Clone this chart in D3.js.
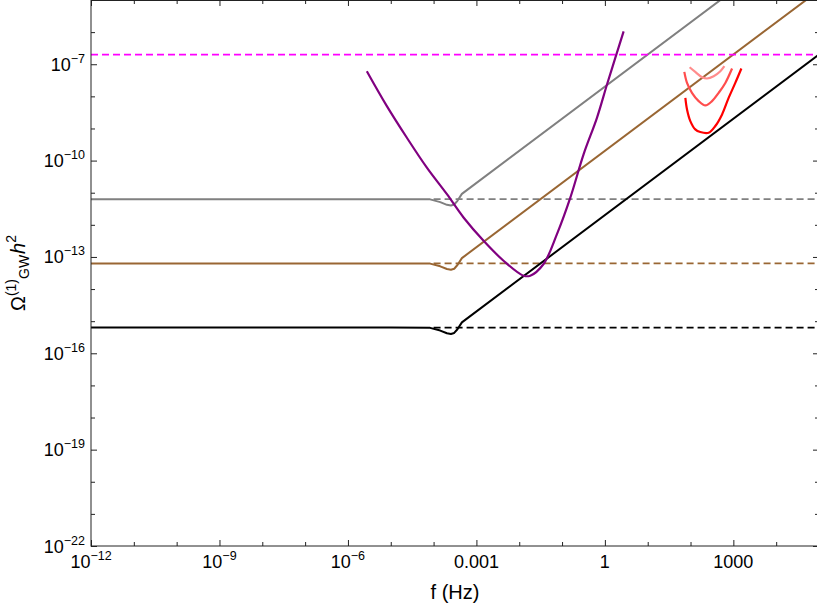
<!DOCTYPE html>
<html>
<head>
<meta charset="utf-8">
<script src="https://cdn.jsdelivr.net/npm/d3@7"></script>
<style>
  html, body { margin: 0; padding: 0; background: #fff; }
  svg { display: block; font-family: "Liberation Sans", Arial, sans-serif; }
</style>
</head>
<body>
<svg id="chart" width="817" height="610"></svg>
<script>
// Frequency grid shared by the three primordial spectra (Hz)
const specFreq = [1e-12, 1e-5, 8.3e-5, 1.43e-4, 2.05e-4, 2.54e-4, 3.03e-4, 3.61e-4, 4.58e-4, 1e5];
// Omega_GW h^2 for the three spectra
const specBlack = [6.3e-16, 6.3e-16, 6.2e-16, 5.1e-16, 4.2e-16, 4.0e-16, 4.3e-16, 5.6e-16, 9.2e-16, 2.0e-7];
const specBrown = [6.3e-14, 6.3e-14, 6.2e-14, 5.1e-14, 4.2e-14, 4.0e-14, 4.3e-14, 5.6e-14, 9.2e-14, 2.0e-5];
const specGray  = [6.3e-12, 6.3e-12, 6.2e-12, 5.1e-12, 4.2e-12, 4.0e-12, 4.3e-12, 5.6e-12, 9.2e-12, 2.0e-3];
// Plateau reference levels (dashed) and the upper bound (magenta)
const plateauLevels = [6.3e-16, 6.3e-14, 6.3e-12];
const plateauStart = 1e-4;
const upperBound = 2.0e-7;

// Space-based detector sensitivity curve
const lisaFreq  = [2.76e-6, 8.11e-6, 2.38e-5, 6.97e-5, 2.05e-4, 5.00e-4, 1.47e-3, 4.30e-3, 1.26e-2, 1.81e-2, 3.70e-2, 7.60e-2, 0.156, 0.318, 0.653, 1.12, 1.75, 2.74];
const lisaOmega = [6.07e-8, 4.97e-9, 5.14e-10, 6.03e-11, 8.97e-12, 1.69e-12, 3.18e-13, 7.62e-14, 2.61e-14, 2.61e-14, 6.03e-14, 5.14e-13, 7.05e-12, 1.57e-10, 2.15e-9, 2.34e-8, 1.57e-7, 1.06e-6];

// Ground-based detector sensitivity curves
const groundAFreq  = [75.7, 82.8, 98.9, 129, 169, 265, 379, 545, 776, 1110, 1540];
const groundAOmega = [8.97e-9, 3.92e-9, 1.70e-9, 9.37e-10, 7.73e-10, 7.36e-10, 1.19e-9, 2.74e-9, 8.97e-9, 2.62e-8, 7.35e-8];
const groundBFreq  = [71.6, 82.8, 108, 155, 222, 318, 454, 650, 933];
const groundBOmega = [5.77e-8, 2.62e-8, 1.29e-8, 7.10e-9, 5.21e-9, 7.10e-9, 1.29e-8, 2.62e-8, 7.35e-8];
const groundCFreq  = [95.3, 129, 186, 243, 347, 497, 617];
const groundCOmega = [8.07e-8, 5.77e-8, 3.94e-8, 3.60e-8, 4.24e-8, 6.07e-8, 8.67e-8];

// Axis ticks
const xMajor = [1e-12, 1e-9, 1e-6, 1e-3, 1, 1e3];
const xMajorLabels = [["10", "−12"], ["10", "−9"], ["10", "−6"], ["0.001", null], ["1", null], ["1000", null]];
const xMinor = [1e-11, 1e-10, 1e-8, 1e-7, 1e-5, 1e-4, 1e-2, 1e-1, 10, 100, 1e4];
const yMajor = [1e-22, 1e-19, 1e-16, 1e-13, 1e-10, 1e-7];
const yMajorLabels = [["10", "−22"], ["10", "−19"], ["10", "−16"], ["10", "−13"], ["10", "−10"], ["10", "−7"]];
const yMinor = [1e-21, 1e-20, 1e-18, 1e-17, 1e-15, 1e-14, 1e-12, 1e-11, 1e-9, 1e-8, 1e-6];

const svg = d3.select("#chart");
const plotL = 91, plotR = 819, plotT = 0, plotB = 546;

const x = d3.scaleLog().domain([1e-12, 1e5]).range([plotL, plotR]);
const y = d3.scaleLog().domain([1e-22, 1e-5]).range([plotB, plotT]);

svg.append("defs").append("clipPath").attr("id", "plotClip")
  .append("rect").attr("x", plotL).attr("y", plotT)
  .attr("width", plotR - plotL).attr("height", plotB - plotT);

const plot = svg.append("g").attr("clip-path", "url(#plotClip)");

const line = d3.line().x(d => x(d[0])).y(d => y(d[1]));
const zipPts = (fs, vs) => fs.map((f, i) => [f, vs[i]]);

// Dashed plateau levels
const plateauColors = ["#000000", "#996633", "#808080"];
plateauLevels.forEach((lv, i) => {
  plot.append("path")
    .attr("d", line([[plateauStart, lv], [1e5, lv]]))
    .attr("fill", "none").attr("stroke", plateauColors[i])
    .attr("stroke-width", 1.6).attr("stroke-dasharray", "7,4");
});

// Spectra
[[specGray, "#808080"], [specBrown, "#996633"], [specBlack, "#000000"]].forEach(([vals, col]) => {
  plot.append("path")
    .attr("d", line(zipPts(specFreq, vals)))
    .attr("fill", "none").attr("stroke", col)
    .attr("stroke-width", 2).attr("stroke-linejoin", "round");
});

// Upper bound
plot.append("path")
  .attr("d", line([[1e-12, upperBound], [1e5, upperBound]]))
  .attr("fill", "none").attr("stroke", "#ff00ff")
  .attr("stroke-width", 1.8).attr("stroke-dasharray", "7,4");

// Sensitivity curves
const smooth = d3.line().x(d => x(d[0])).y(d => y(d[1])).curve(d3.curveCatmullRom.alpha(0.5));
plot.append("path")
  .attr("d", smooth(zipPts(lisaFreq, lisaOmega)))
  .attr("fill", "none").attr("stroke", "#800080").attr("stroke-width", 2.2);

[[groundCFreq, groundCOmega, "#ff8c8c"], [groundBFreq, groundBOmega, "#ff4d4d"], [groundAFreq, groundAOmega, "#ff0000"]]
  .forEach(([fs, vs, col]) => {
    plot.append("path")
      .attr("d", smooth(zipPts(fs, vs)))
      .attr("fill", "none").attr("stroke", col).attr("stroke-width", 2.2);
  });

// Frame
svg.append("rect").attr("x", plotL).attr("y", plotT + 0.5)
  .attr("width", plotR - plotL).attr("height", plotB - plotT - 0.5)
  .attr("fill", "none").attr("stroke", "#222").attr("stroke-width", 1);

// Inward ticks on all four sides
function tickAxis(axisFn, scale, vals, size, transform) {
  const g = svg.append("g").attr("transform", transform)
    .call(axisFn(scale).tickValues(vals).tickSizeInner(size).tickSizeOuter(0).tickFormat(""));
  g.select(".domain").remove();
  g.selectAll(".tick line").attr("stroke", "#222");
  return g;
}
tickAxis(d3.axisBottom, x, xMajor, -6, `translate(0,${plotB})`);
tickAxis(d3.axisBottom, x, xMinor, -4, `translate(0,${plotB})`);
tickAxis(d3.axisTop, x, xMajor, -6, `translate(0,${plotT})`);
tickAxis(d3.axisTop, x, xMinor, -4, `translate(0,${plotT})`);
tickAxis(d3.axisLeft, y, yMajor, -6, `translate(${plotL},0)`);
tickAxis(d3.axisLeft, y, yMinor, -4, `translate(${plotL},0)`);
tickAxis(d3.axisRight, y, yMajor, -6, `translate(${plotR},0)`);
tickAxis(d3.axisRight, y, yMinor, -4, `translate(${plotR},0)`);

// Tick labels with superscript exponents
function powLabel(sel, parts) {
  sel.append("tspan").text(parts[0]);
  if (parts[1]) {
    sel.append("tspan").attr("font-size", 12.5).attr("dy", -8).text(parts[1]);
  }
}
xMajor.forEach((v, i) => {
  const t = svg.append("text").attr("x", x(v)).attr("y", plotB + 22)
    .attr("text-anchor", "middle").attr("font-size", 18).attr("fill", "#000");
  powLabel(t, xMajorLabels[i]);
});
yMajor.forEach((v, i) => {
  const t = svg.append("text").attr("x", plotL - 6).attr("y", y(v) + 6.5)
    .attr("text-anchor", "end").attr("font-size", 18).attr("fill", "#000");
  powLabel(t, yMajorLabels[i]);
});

// Axis titles
svg.append("text").attr("x", (plotL + plotR) / 2).attr("y", 599)
  .attr("text-anchor", "middle").attr("font-size", 20).text("f (Hz)");

const yt = svg.append("text")
  .attr("transform", `translate(25,${(plotT + plotB) / 2}) rotate(-90)`)
  .attr("text-anchor", "middle").attr("font-size", 20);
yt.append("tspan").text("Ω");
yt.append("tspan").attr("font-size", 14).attr("dy", -9).text("(1)");
yt.append("tspan").attr("font-size", 14).attr("dy", 13).text("GW");
yt.append("tspan").attr("font-style", "italic").attr("dy", -4).attr("dx", 1).text("h");
yt.append("tspan").attr("font-size", 14).attr("dy", -9).text("2");
</script>
</body>
</html>
